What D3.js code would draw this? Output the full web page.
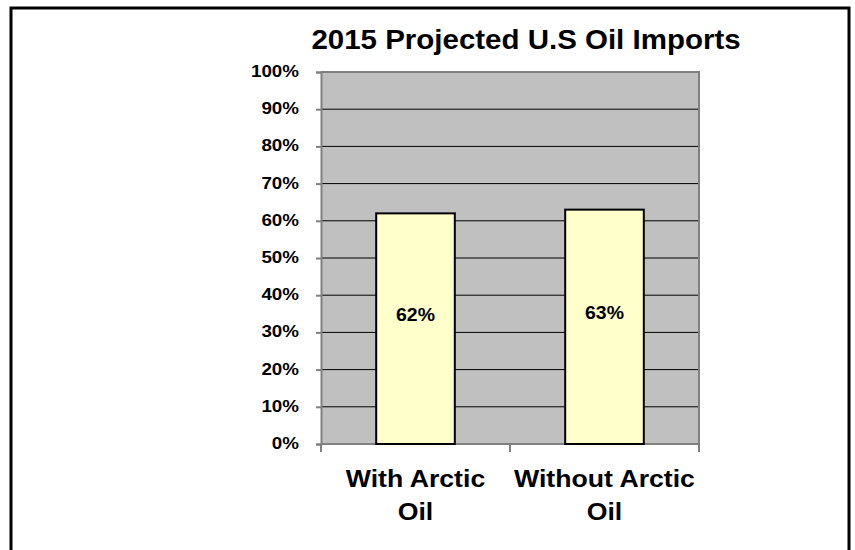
<!DOCTYPE html>
<html>
<head>
<meta charset="utf-8">
<script src="https://cdn.jsdelivr.net/npm/d3@7"></script>
<style>
  html, body { margin: 0; padding: 0; background: #fff; }
  svg { display: block; }
  text { font-family: "Liberation Sans", Arial, sans-serif; font-weight: bold; fill: #000; }
</style>
</head>
<body>
<script>
const title = "2015 Projected U.S Oil Imports";
const categories = [["With Arctic", "Oil"], ["Without Arctic", "Oil"]];
const values = [0.62, 0.63];
const valueLabels = ["62%", "63%"];
const yTicks = [0, 0.1, 0.2, 0.3, 0.4, 0.5, 0.6, 0.7, 0.8, 0.9, 1.0];

const W = 855, H = 550;
const SX = 1.08; // slight horizontal text stretch of the original
const svg = d3.select("body").append("svg").attr("width", W).attr("height", H);

// outer frame
svg.append("rect").attr("x", 11).attr("y", 8).attr("width", 838).attr("height", 560)
  .attr("fill", "#fff").attr("stroke", "#000").attr("stroke-width", 3);

const plot = { left: 321, right: 699, top: 72, bottom: 444 };
const keys = categories.map(c => c.join(" "));
const x = d3.scaleBand().domain(keys).range([plot.left, plot.right]).padding(0);
const y = d3.scaleLinear().domain([0, 1]).range([plot.bottom, plot.top]);
const barFrac = 0.416;

function stretchedText(sel, tx, ty, txt, size, anchor) {
  return sel.append("text")
    .attr("transform", `translate(${tx},${ty}) scale(${SX},1)`)
    .attr("text-anchor", anchor || "middle")
    .attr("font-size", size)
    .text(txt);
}

// plot background
svg.append("rect").attr("x", plot.left).attr("y", plot.top)
  .attr("width", plot.right - plot.left).attr("height", plot.bottom - plot.top)
  .attr("fill", "#c0c0c0");

// gridlines
svg.append("g").selectAll("line").data(yTicks.filter(t => t > 0 && t < 1)).join("line")
  .attr("x1", plot.left).attr("x2", plot.right)
  .attr("y1", d => y(d)).attr("y2", d => y(d))
  .attr("stroke", "#000").attr("stroke-width", 1);

// plot border (top, right) in gray
svg.append("path")
  .attr("d", `M${plot.left},${plot.top}H${plot.right}V${plot.bottom}`)
  .attr("fill", "none").attr("stroke", "#808080").attr("stroke-width", 2);

// y axis
const yAxis = d3.axisLeft(y).tickValues(yTicks).tickSize(5).tickFormat("");
const gy = svg.append("g").attr("transform", `translate(${plot.left},0)`).call(yAxis);
gy.select(".domain").attr("stroke", "#808080").attr("stroke-width", 2);
gy.selectAll(".tick line").attr("stroke", "#808080").attr("stroke-width", 2);
yTicks.forEach(t => {
  stretchedText(svg, 299, y(t) + 5, d3.format(".0%")(t), 17.4, "end");
});

// x axis
const gx = svg.append("g").attr("transform", `translate(0,${plot.bottom})`);
gx.append("line").attr("x1", plot.left).attr("x2", plot.right).attr("y1", 0).attr("y2", 0)
  .attr("stroke", "#808080").attr("stroke-width", 2);
const bounds = keys.map(k => x(k)).concat([x(keys[keys.length - 1]) + x.bandwidth()]);
gx.selectAll("line.tk").data(bounds).join("line").attr("class", "tk")
  .attr("x1", d => d).attr("x2", d => d).attr("y1", 0).attr("y2", 8)
  .attr("stroke", "#808080").attr("stroke-width", 2);

categories.forEach((lines, i) => {
  const cx = x(keys[i]) + x.bandwidth() / 2;
  lines.forEach((ln, j) => {
    stretchedText(svg, cx, 487 + j * 33, ln, 24.7);
  });
});

// bars
const bw = x.bandwidth() * barFrac;
svg.append("g").selectAll("rect").data(values).join("rect")
  .attr("x", (d, i) => x(keys[i]) + (x.bandwidth() - bw) / 2)
  .attr("y", d => y(d))
  .attr("width", bw)
  .attr("height", d => y(0) - y(d))
  .attr("fill", "#ffffcc").attr("stroke", "#000").attr("stroke-width", 2);

// value labels
values.forEach((v, i) => {
  const cx = x(keys[i]) + x.bandwidth() / 2;
  const cy = (y(v) + y(0)) / 2 - 14;
  stretchedText(svg, cx, cy + 6.5, valueLabels[i], 18);
});

// title
stretchedText(svg, 526, 49, title, 27.3);
</script>
</body>
</html>
